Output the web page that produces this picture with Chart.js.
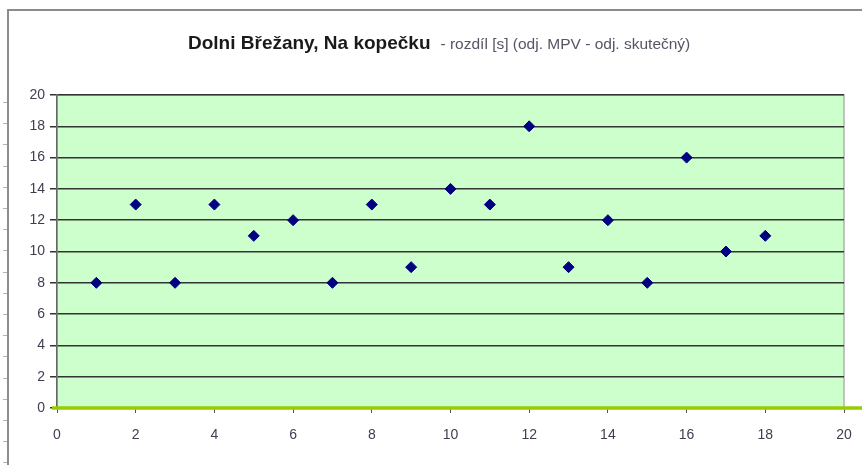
<!DOCTYPE html>
<html lang="cs">
<head>
    <meta charset="UTF-8">
    <title>Dolni Břežany, Na kopečku</title>
    <style>
        body {
            margin: 0;
            padding: 0;
            background: #ffffff;
        }
        .chart-box {
            position: relative;
            width: 862px;
            height: 465px;
        }
    </style>
    <script src="https://cdn.jsdelivr.net/npm/chart.js"></script>
</head>
<body>
    <div class="chart-box">
        <canvas id="rozdilChart" width="862" height="465"></canvas>
    </div>

    <script>
        // data
        const poradi = [1, 2, 3, 4, 5, 6, 7, 8, 9, 10, 11, 12, 13, 14, 15, 16, 17, 18];
        const rozdil = [8, 13, 8, 13, 11, 12, 8, 13, 9, 14, 13, 18, 9, 12, 8, 16, 10, 11];
        const xTicks = [0, 2, 4, 6, 8, 10, 12, 14, 16, 18, 20];
        const yTicks = [0, 2, 4, 6, 8, 10, 12, 14, 16, 18, 20];

        const titulek = 'Dolni Břežany, Na kopečku';
        const podtitulek = '- rozdíl [s] (odj. MPV - odj. skutečný)';
        const pismo = '"Liberation Sans", Arial, sans-serif';

        // pozadí grafu, rámeček a nadpis (jako v Excelu)
        const excelLook = {
            id: 'excelLook',
            beforeDraw(chart) {
                const { ctx, chartArea: a } = chart;
                ctx.save();
                ctx.fillStyle = '#ccffcc';
                ctx.fillRect(a.left, a.top, a.right - a.left, a.bottom - a.top);
                ctx.strokeStyle = '#b0b0b0';
                ctx.lineWidth = 1.5;
                ctx.strokeRect(a.left, a.top, a.right - a.left, a.bottom - a.top);
                ctx.restore();
            },
            afterDraw(chart) {
                const { ctx, chartArea: a, scales } = chart;
                ctx.save();
                // zelená čára na nule
                const y0 = scales.y.getPixelForValue(0);
                ctx.strokeStyle = '#99cc00';
                ctx.lineWidth = 3.5;
                ctx.beginPath();
                ctx.moveTo(a.left - 5, y0);
                ctx.lineTo(862, y0);
                ctx.stroke();

                // rámeček listu
                ctx.strokeStyle = '#8c8c8c';
                ctx.lineWidth = 2;
                ctx.beginPath();
                ctx.moveTo(8, 465);
                ctx.lineTo(8, 10);
                ctx.lineTo(862, 10);
                ctx.stroke();
                // drobné značky vlevo od rámečku
                ctx.lineWidth = 1;
                ctx.strokeStyle = '#b5b5b5';
                for (let y = 102; y < 465; y += 21.2) {
                    ctx.beginPath();
                    ctx.moveTo(3, Math.round(y) + 0.5);
                    ctx.lineTo(7, Math.round(y) + 0.5);
                    ctx.stroke();
                }

                // nadpis
                ctx.textBaseline = 'middle';
                ctx.fillStyle = '#1a1a1a';
                ctx.font = 'bold 19px ' + pismo;
                const w1 = ctx.measureText(titulek).width;
                ctx.fillText(titulek, 188, 44);
                ctx.fillStyle = '#555566';
                ctx.font = '15.5px ' + pismo;
                ctx.fillText(podtitulek, 188 + w1 + 10, 45);
                ctx.restore();
            }
        };

        const ctx = document.getElementById('rozdilChart').getContext('2d');
        const rozdilChart = new Chart(ctx, {
            type: 'scatter',
            data: {
                datasets: [{
                    label: 'rozdíl [s]',
                    data: poradi.map((p, i) => ({ x: p, y: rozdil[i] })),
                    pointStyle: 'rectRot',
                    pointRadius: 5.5,
                    backgroundColor: '#000080',
                    borderColor: '#000080',
                    borderWidth: 1
                }]
            },
            options: {
                responsive: false,
                animation: false,
                layout: {
                    padding: { left: 0, top: 95, right: 18, bottom: 0 }
                },
                plugins: {
                    legend: { display: false },
                    title: { display: false },
                    tooltip: { enabled: false }
                },
                scales: {
                    x: {
                        type: 'linear',
                        min: 0,
                        max: 20,
                        afterFit(scale) {
                            scale.height = 57;
                            scale.paddingRight = 0;
                            scale.paddingLeft = 0;
                        },
                        afterBuildTicks(scale) { scale.ticks = xTicks.map(v => ({ value: v })); },
                        grid: {
                            drawOnChartArea: false,
                            drawTicks: true,
                            tickLength: 5,
                            color: '#555555'
                        },
                        border: { color: '#777777', width: 1.5 },
                        ticks: {
                            color: '#3e3e50',
                            padding: 14,
                            maxRotation: 0,
                            minRotation: 0,
                            font: { family: pismo, size: 14 }
                        }
                    },
                    y: {
                        type: 'linear',
                        min: 0,
                        max: 20,
                        afterFit(scale) { scale.width = 57; },
                        afterBuildTicks(scale) { scale.ticks = yTicks.map(v => ({ value: v })); },
                        grid: {
                            color: '#333333',
                            lineWidth: 1.5,
                            tickLength: 7
                        },
                        border: { color: '#666666', width: 1.5 },
                        ticks: {
                            color: '#3e3e50',
                            padding: 5,
                            font: { family: pismo, size: 14 }
                        }
                    }
                }
            },
            plugins: [excelLook]
        });
    </script>
</body>
</html>
